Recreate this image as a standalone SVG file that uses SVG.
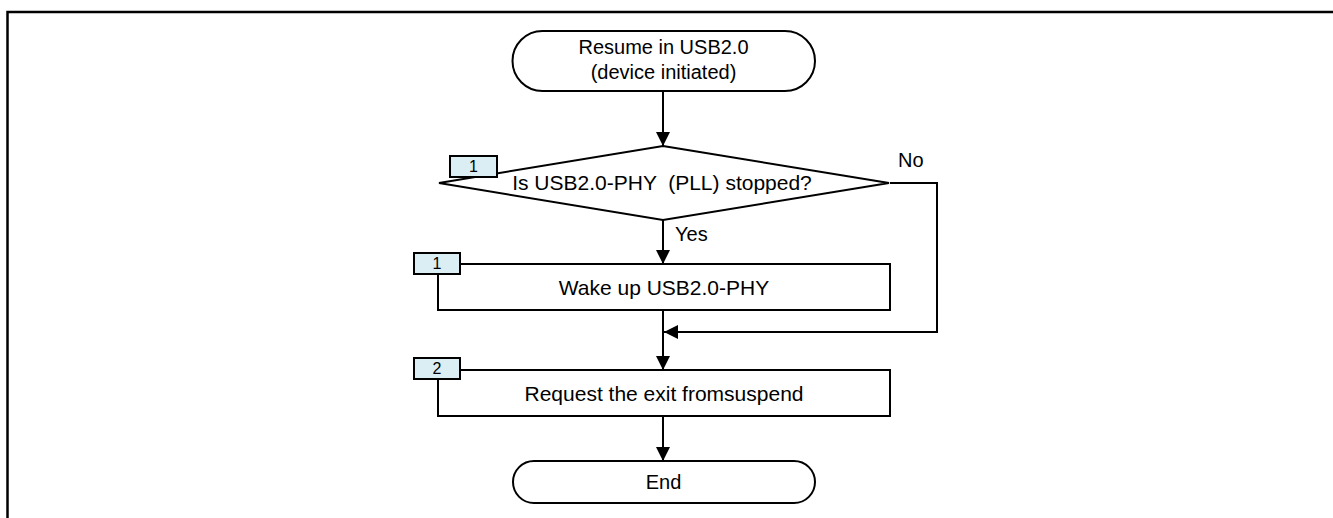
<svg xmlns="http://www.w3.org/2000/svg" width="1333" height="518" viewBox="0 0 1333 518">
<defs>
<style>
.sh{fill:#ffffff;stroke:#000000;stroke-width:2}
.tag{fill:#dbeef4;stroke:#000000;stroke-width:2}
.t{font-family:"Liberation Sans",Arial,sans-serif;font-size:21px;fill:#000000;text-anchor:middle}
.ts{font-family:"Liberation Sans",Arial,sans-serif;font-size:20px;fill:#000000;text-anchor:middle}
.tt{font-family:"Liberation Sans",Arial,sans-serif;font-size:16px;fill:#000000;text-anchor:middle}
.lb{font-family:"Liberation Sans",Arial,sans-serif;font-size:20px;fill:#000000}
.c{fill:none;stroke:#000000;stroke-width:2}
</style>
<marker id="ah" markerUnits="userSpaceOnUse" markerWidth="14" markerHeight="14" viewBox="0 0 14 14" refX="14" refY="7" orient="auto">
<path d="M0,0 L14,7 L0,14 Z" fill="#000000"/>
</marker>
</defs>
<rect width="1333" height="518" fill="#ffffff"/>
<g id="frame">
<path d="M7.5,518 V12 H1333" fill="none" stroke="#000000" stroke-width="2.5"/>
</g>
<g id="connectors">
<path class="c" d="M663,91 V146" marker-end="url(#ah)"/>
<path class="c" d="M663,220 V264" marker-end="url(#ah)"/>
<path class="c" d="M663,310 V370" marker-end="url(#ah)"/>
<path class="c" d="M890,183 H937 V332 H664" marker-end="url(#ah)"/>
<path class="c" d="M663,416 V461" marker-end="url(#ah)"/>
<text class="lb" x="898" y="167">No</text>
<text class="lb" x="675" y="241">Yes</text>
</g>
<g id="start">
<rect class="sh" x="512.5" y="31" width="302.5" height="60" rx="30" ry="30"/>
<text class="ts" x="663.5" y="54">Resume in USB2.0</text>
<text class="ts" x="663.5" y="79">(device initiated)</text>
</g>
<g id="decision">
<polygon class="sh" points="663,146 889,183 663,220 439,183"/>
<text class="t" x="662" y="190" xml:space="preserve">Is USB2.0-PHY  (PLL) stopped?</text>
</g>
<g id="decision-tag">
<rect class="tag" x="450" y="156" width="47" height="21"/>
<text class="tt" x="473.5" y="172">1</text>
</g>
<g id="step1">
<rect class="sh" x="438" y="264" width="452" height="46"/>
<text class="t" x="664" y="294.5">Wake up USB2.0-PHY</text>
</g>
<g id="step1-tag">
<rect class="tag" x="414" y="253" width="46" height="21"/>
<text class="tt" x="437" y="269">1</text>
</g>
<g id="step2">
<rect class="sh" x="438" y="370" width="452" height="46"/>
<text class="t" x="664" y="400.5">Request the exit fromsuspend</text>
</g>
<g id="step2-tag">
<rect class="tag" x="414" y="358" width="46" height="21"/>
<text class="tt" x="437" y="374">2</text>
</g>
<g id="end">
<rect class="sh" x="513" y="461" width="302" height="42" rx="21" ry="21"/>
<text class="ts" x="663.5" y="489">End</text>
</g>
</svg>
